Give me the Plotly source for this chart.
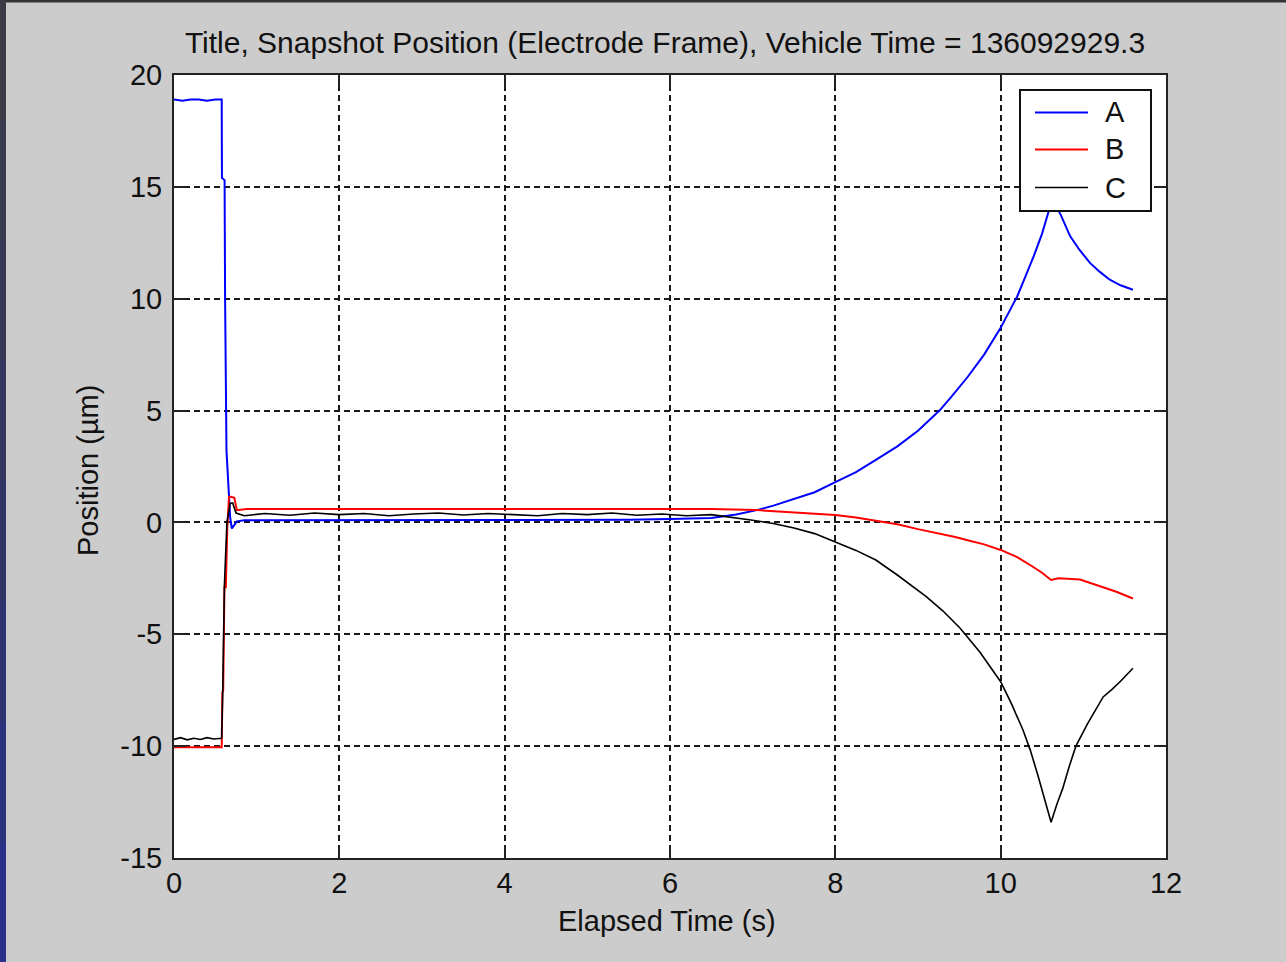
import plotly.graph_objects as go

# ---- series A (blue) ----
t_a = [0.0, 0.10, 0.20, 0.30, 0.40, 0.50, 0.577, 0.58, 0.612, 0.618, 0.635, 0.645,
       0.66, 0.68, 0.70, 0.73, 0.76, 0.85, 1.5, 2.5, 3.5, 4.5, 5.5, 6.0, 6.5, 6.8,
       7.05, 7.25, 7.5, 7.75, 8.0, 8.25, 8.49, 8.75, 9.0, 9.13, 9.26, 9.4, 9.6, 9.8,
       10.0, 10.1, 10.2, 10.3, 10.4, 10.5, 10.58, 10.63, 10.68, 10.72, 10.78, 10.84,
       10.95, 11.08, 11.2, 11.32, 11.45, 11.6]
v_a = [18.9, 18.85, 18.9, 18.9, 18.85, 18.9, 18.9, 15.4, 15.3, 10.0, 3.2, 2.4,
       1.1, 0.2, -0.27, -0.1, 0.05, 0.1, 0.1, 0.1, 0.1, 0.1, 0.12, 0.15, 0.2, 0.35,
       0.55, 0.75, 1.05, 1.35, 1.8, 2.25, 2.8, 3.4, 4.1, 4.55, 5.0, 5.6, 6.5, 7.5,
       8.7, 9.4, 10.1, 11.0, 11.9, 12.9, 13.9, 14.4, 14.1, 13.8, 13.3, 12.8,
       12.2, 11.6, 11.2, 10.85, 10.6, 10.4]

# ---- series B (red) ----
t_b = [0.0, 0.3, 0.577, 0.585, 0.595, 0.61, 0.627, 0.645, 0.665, 0.685, 0.73, 0.76,
       0.88, 1.5, 2.5, 3.5, 4.5, 5.5, 6.5, 7.05, 7.25, 7.5, 7.75, 8.0, 8.25, 8.49,
       8.75, 9.0, 9.26, 9.45, 9.6, 9.8, 10.0, 10.2, 10.39, 10.5, 10.61, 10.7, 10.96,
       11.2, 11.4, 11.6]
v_b = [-10.05, -10.05, -10.05, -7.6, -7.5, -2.9, -2.9, -0.2, 1.15, 1.15, 1.1, 0.55,
       0.6, 0.6, 0.6, 0.62, 0.62, 0.6, 0.6, 0.55, 0.5, 0.45, 0.4, 0.33, 0.22, 0.08,
       -0.08, -0.3, -0.5, -0.65, -0.8, -0.98, -1.23, -1.55, -1.98, -2.25, -2.57, -2.5, -2.55,
       -2.85, -3.1, -3.4]

# ---- series C (black) ----
t_c = [0.0, 0.08, 0.16, 0.24, 0.32, 0.40, 0.48, 0.577, 0.59, 0.61, 0.64, 0.68,
       0.71, 0.75, 0.85, 1.1, 1.4, 1.7, 2.0, 2.3, 2.6, 2.9, 3.2, 3.5, 3.8, 4.1,
       4.4, 4.7, 5.0, 5.3, 5.6, 5.9, 6.2, 6.5, 6.85, 7.0, 7.25, 7.5, 7.75, 8.0,
       8.25, 8.49, 8.75, 9.1, 9.3, 9.51, 9.75, 10.0, 10.13, 10.27, 10.36, 10.45,
       10.53, 10.61, 10.68, 10.75, 10.83, 10.91, 11.05, 11.24, 11.35, 11.45, 11.6]
v_c = [-9.7, -9.62, -9.72, -9.65, -9.7, -9.62, -9.68, -9.65, -7.5, -2.8, 0.0, 0.85,
       0.87, 0.42, 0.3, 0.4, 0.32, 0.42, 0.35, 0.4, 0.3, 0.38, 0.42, 0.33, 0.4, 0.36,
       0.3, 0.4, 0.35, 0.42, 0.32, 0.38, 0.3, 0.35, 0.18, 0.1, -0.05, -0.25, -0.5, -0.86,
       -1.25, -1.68, -2.35, -3.32, -3.95, -4.73, -5.8, -7.12, -8.1, -9.28, -10.2, -11.3,
       -12.3, -13.4, -12.6, -11.9, -10.9, -10.0, -9.0, -7.8, -7.45, -7.1, -6.52]

x_ticks = [0, 2, 4, 6, 8, 10, 12]
y_ticks = [-15, -10, -5, 0, 5, 10, 15, 20]
y_tick_text = ["-15", "-10", "-5", "0", "5", "10", "15", "20"]

series_names = ["A", "B", "C"]
series_colors = ["#0000ff", "#ff0000", "#000000"]
series_widths = [2, 2, 1.6]

FONT = "Liberation Sans, Arial, sans-serif"
INK = "#111"

fig = go.Figure()
for (tx, vy), name, col, lw in zip([(t_a, v_a), (t_b, v_b), (t_c, v_c)],
                                   series_names, series_colors, series_widths):
    fig.add_trace(go.Scatter(x=tx, y=vy, mode="lines", name=name, showlegend=False,
                             line=dict(color=col, width=lw)))

W, H = 1286, 962
L, R, T, B = 174, 120, 75, 104
pw, ph = W - L - R, H - T - B


def px_x(p):
    return (p - L) / pw


def px_y(p):
    return 1 - (p - T) / ph


axis_common = dict(
    showline=True, linecolor="#222", linewidth=2, mirror="ticks",
    ticks="inside", ticklen=12, tickwidth=2, tickcolor="#222",
    showgrid=True, gridcolor="#1a1a1a", gridwidth=2, griddash="6px,4px",
    zeroline=False, tickfont=dict(family=FONT, size=29, color=INK),
)

fig.update_xaxes(range=[0, 12], tickvals=x_ticks, ticklabelstandoff=-2, **axis_common)
fig.update_yaxes(range=[-15, 20], tickvals=y_ticks, ticktext=y_tick_text,
                 ticklabelstandoff=4, **axis_common)

# window frame strips
shapes = [dict(type="rect", xref="paper", yref="paper",
               x0=px_x(0), x1=px_x(W), y0=px_y(0), y1=px_y(2.5),
               fillcolor="#333338", line=dict(width=0))]
strip_cols = ["#3a3b47", "#383a4e", "#363856", "#33365e", "#303467",
              "#2e3372", "#2d327d", "#2b3188"]
n = len(strip_cols)
for i, c in enumerate(strip_cols):
    shapes.append(dict(type="rect", xref="paper", yref="paper",
                       x0=px_x(0), x1=px_x(6),
                       y0=px_y(H * i / n), y1=px_y(H * (i + 1) / n + 1),
                       fillcolor=c, line=dict(width=0)))

annotations = [
    dict(text="Elapsed Time (s)", xref="paper", yref="paper",
         x=px_x(667), y=0, yshift=-63, xanchor="center", yanchor="middle",
         showarrow=False, font=dict(family=FONT, size=29, color=INK)),
    dict(text="Position (µm)", xref="paper", yref="paper",
         x=0, y=px_y(471), xshift=88 - L, xanchor="center", yanchor="middle",
         textangle=-90, showarrow=False,
         font=dict(family=FONT, size=29, color=INK)),
]

# legend box: frame, line samples and labels
leg_x0, leg_x1, leg_y0, leg_y1 = 1020, 1151, 90, 211
shapes.append(dict(type="rect", xref="paper", yref="paper",
                   x0=px_x(leg_x0), x1=px_x(leg_x1), y0=px_y(leg_y1), y1=px_y(leg_y0),
                   fillcolor="#ffffff", line=dict(color=INK, width=2), layer="above"))
row_y = [112.5, 149.5, 187.5]
for name, col, lw, ry in zip(series_names, series_colors, series_widths, row_y):
    shapes.append(dict(type="line", xref="paper", yref="paper",
                       x0=px_x(1035), x1=px_x(1088), y0=px_y(ry), y1=px_y(ry),
                       line=dict(color=col, width=lw), layer="above"))
    annotations.append(dict(text=name, xref="paper", yref="paper",
                            x=px_x(1103), y=px_y(ry), xanchor="left", yanchor="middle",
                            showarrow=False,
                            font=dict(family=FONT, size=29, color=INK)))

fig.update_layout(
    width=W, height=H,
    margin=dict(l=L, r=R, t=T, b=B),
    paper_bgcolor="#cccccc", plot_bgcolor="#ffffff",
    font=dict(family=FONT, size=29, color=INK),
    title=dict(text="Title, Snapshot Position (Electrode Frame), Vehicle Time = 136092929.3",
               x=665 / W, xanchor="center", y=1 - 42 / H, yanchor="middle",
               yref="container", font=dict(family=FONT, size=30, color=INK)),
    showlegend=False,
    shapes=shapes,
    annotations=annotations,
)

fig.write_html("out.html")
